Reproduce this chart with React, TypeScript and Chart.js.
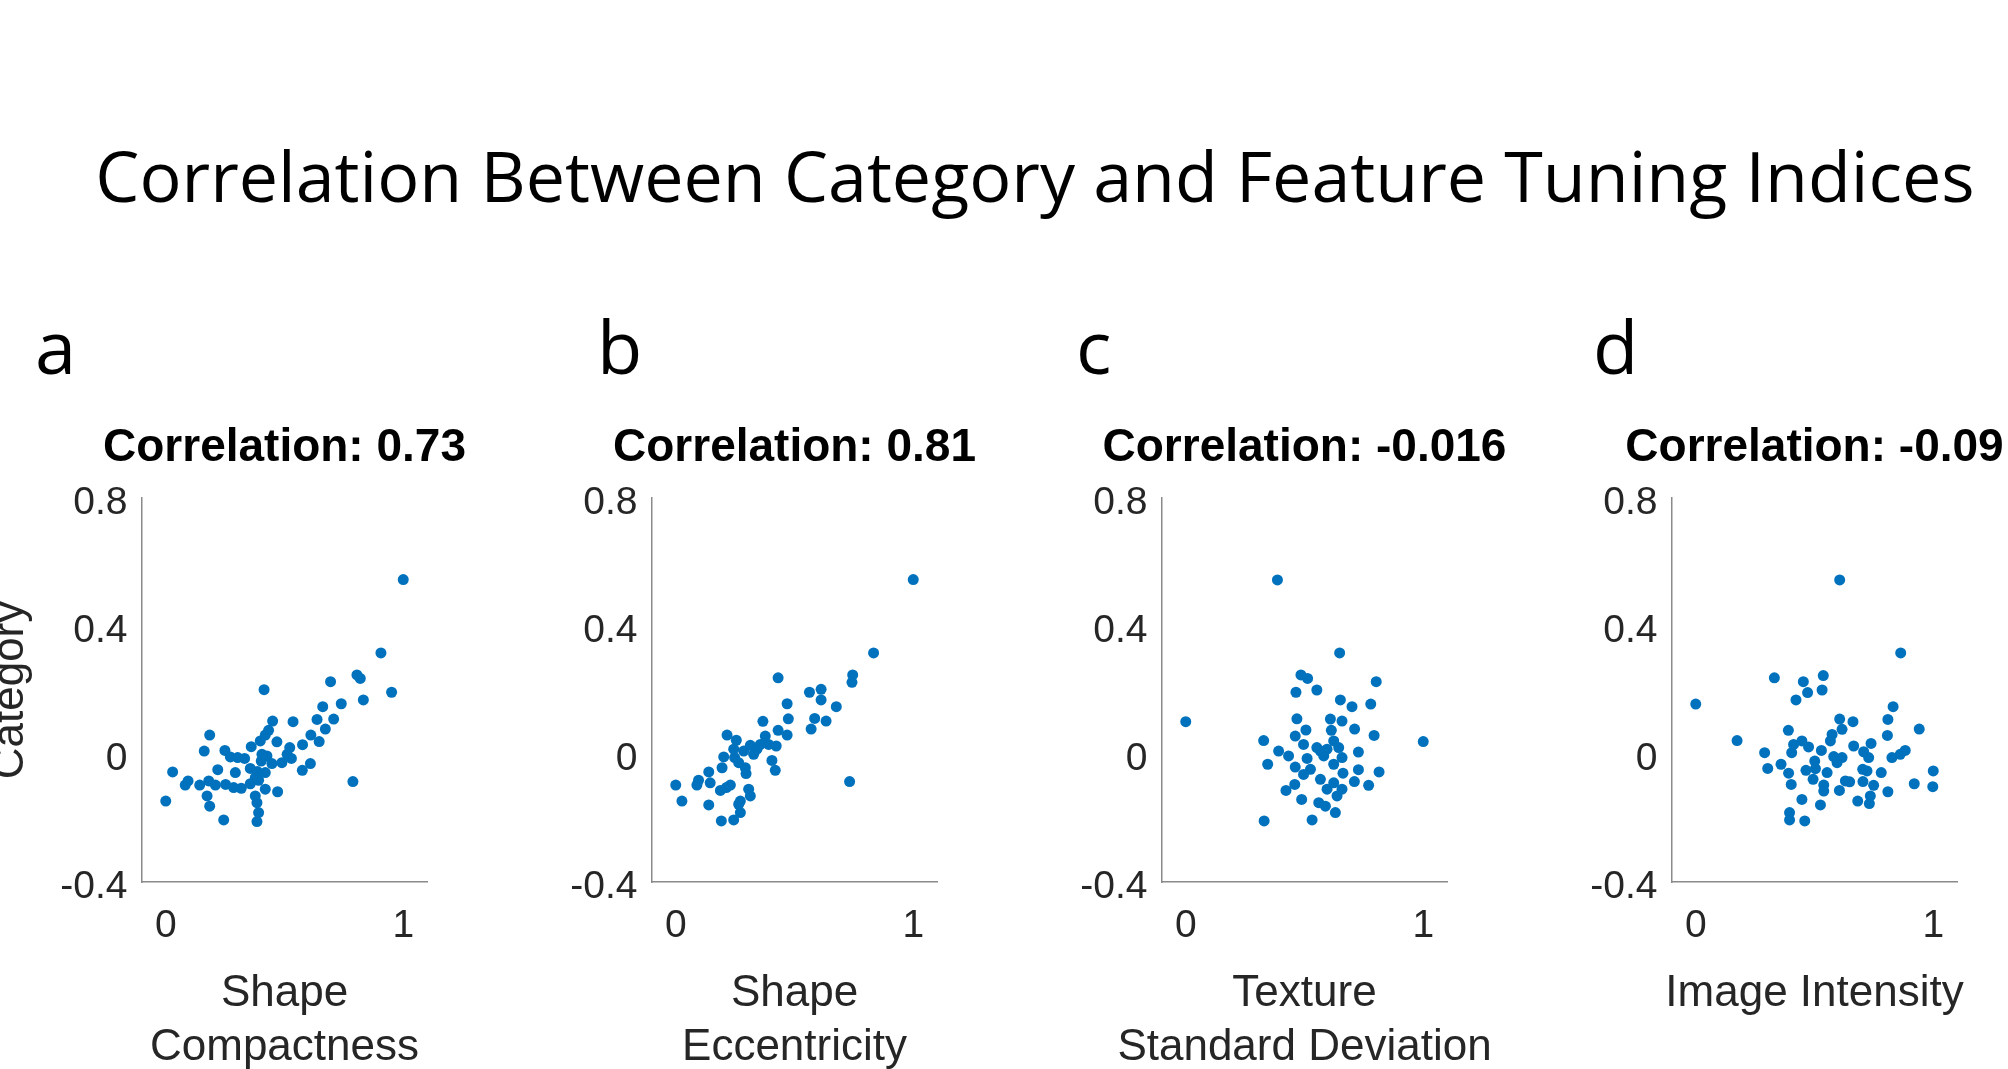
import React, { useEffect, useRef } from 'react';
import { Chart, registerables } from 'chart.js';

Chart.register(...registerables);

const figureTitle = 'Correlation Between Category and Feature Tuning Indices';
const panelLetters = ['a', 'b', 'c', 'd'];
const correlationTexts = ['Correlation: 0.73', 'Correlation: 0.81', 'Correlation: -0.016', 'Correlation: -0.09'];
const xAxisLabels = [['Shape', 'Compactness'], ['Shape', 'Eccentricity'], ['Texture', 'Standard Deviation'], ['Image Intensity']];
const yAxisLabel = 'Category';
const yTickValues = [-0.4, 0, 0.4, 0.8];
const xTickValues = [0, 1];

// [feature index, category index]
const compactnessPoints: [number, number][] = [
  [1.0, 0.545], [0.906, 0.316], [0.805, 0.247], [0.819, 0.236], [0.951, 0.193], [0.832, 0.169], [0.694, 0.226],
  [0.414, 0.201], [0.739, 0.157], [0.661, 0.148], [0.707, 0.109], [0.637, 0.108], [0.672, 0.078], [0.536, 0.101],
  [0.45, 0.103], [0.611, 0.059], [0.646, 0.039], [0.576, 0.029], [0.433, 0.074], [0.419, 0.059], [0.398, 0.041],
  [0.36, 0.023], [0.468, 0.038], [0.522, 0.02], [0.511, -0.001], [0.529, -0.014], [0.489, -0.027], [0.447, -0.03],
  [0.426, -0.006], [0.405, -0.001], [0.402, -0.022], [0.185, 0.059], [0.162, 0.009], [0.249, 0.011], [0.272, -0.009],
  [0.303, -0.011], [0.332, -0.014], [0.356, -0.045], [0.219, -0.049], [0.293, -0.058], [0.386, -0.055], [0.419, -0.058],
  [0.609, -0.03], [0.575, -0.051], [0.029, -0.056], [0.094, -0.084], [0.082, -0.097], [0.143, -0.097], [0.181, -0.084],
  [0.209, -0.097], [0.252, -0.095], [0.286, -0.105], [0.318, -0.107], [0.356, -0.093], [0.391, -0.082], [0.419, -0.11],
  [0.471, -0.118], [0.788, -0.086], [0.0, -0.147], [0.174, -0.131], [0.185, -0.163], [0.377, -0.131], [0.384, -0.152],
  [0.391, -0.183], [0.384, -0.211], [0.244, -0.206], [0.377, -0.074],
];

const eccentricityPoints: [number, number][] = [
  [1.0, 0.545], [0.833, 0.316], [0.745, 0.247], [0.742, 0.224], [0.431, 0.238], [0.563, 0.193], [0.612, 0.202],
  [0.612, 0.169], [0.676, 0.148], [0.469, 0.157], [0.585, 0.111], [0.633, 0.103], [0.57, 0.078], [0.474, 0.11],
  [0.367, 0.102], [0.431, 0.074], [0.469, 0.059], [0.377, 0.056], [0.423, 0.025], [0.391, 0.03], [0.342, 0.015],
  [0.314, 0.027], [0.405, -0.02], [0.419, -0.051], [0.216, 0.059], [0.255, 0.043], [0.286, 0.009], [0.202, -0.009],
  [0.248, -0.011], [0.265, -0.027], [0.293, -0.043], [0.195, -0.043], [0.296, -0.061], [0.139, -0.056], [0.096, -0.082],
  [0.089, -0.097], [0.145, -0.09], [0.0, -0.097], [0.188, -0.114], [0.23, -0.097], [0.213, -0.105], [0.307, -0.11],
  [0.314, -0.131], [0.272, -0.147], [0.265, -0.157], [0.272, -0.183], [0.244, -0.206], [0.192, -0.209], [0.026, -0.147],
  [0.139, -0.159], [0.732, -0.086], [0.356, 0.03], [0.328, -0.001], [0.244, 0.015],
];

const textureSdPoints: [number, number][] = [
  [0.386, 0.544], [0.648, 0.316], [0.485, 0.247], [0.513, 0.236], [0.802, 0.226], [0.464, 0.193], [0.552, 0.2],
  [0.651, 0.169], [0.7, 0.148], [0.779, 0.156], [0.0, 0.101], [0.468, 0.11], [0.609, 0.109], [0.658, 0.103],
  [0.711, 0.078], [0.506, 0.075], [0.613, 0.074], [0.793, 0.058], [1.0, 0.039], [0.328, 0.042], [0.461, 0.056],
  [0.496, 0.03], [0.391, 0.009], [0.433, -0.006], [0.552, 0.02], [0.595, 0.015], [0.644, 0.02], [0.623, 0.041],
  [0.658, -0.011], [0.727, 0.006], [0.511, -0.014], [0.581, -0.006], [0.345, -0.032], [0.461, -0.041], [0.525, -0.048],
  [0.662, -0.06], [0.727, -0.049], [0.814, -0.056], [0.496, -0.064], [0.567, -0.079], [0.623, -0.09], [0.71, -0.086],
  [0.77, -0.098], [0.459, -0.095], [0.422, -0.114], [0.595, -0.11], [0.658, -0.11], [0.488, -0.142], [0.56, -0.152],
  [0.588, -0.163], [0.637, -0.131], [0.63, -0.183], [0.532, -0.206], [0.33, -0.209], [0.567, 0.009], [0.623, -0.032],
];

const intensityPoints: [number, number][] = [
  [0.606, 0.544], [0.863, 0.316], [0.331, 0.238], [0.453, 0.226], [0.537, 0.245], [0.471, 0.192], [0.532, 0.2],
  [0.422, 0.169], [0.0, 0.156], [0.831, 0.148], [0.809, 0.108], [0.606, 0.109], [0.662, 0.101], [0.616, 0.077],
  [0.941, 0.078], [0.39, 0.074], [0.574, 0.061], [0.807, 0.058], [0.174, 0.042], [0.567, 0.041], [0.447, 0.041],
  [0.412, 0.03], [0.475, 0.022], [0.665, 0.025], [0.738, 0.033], [0.29, 0.004], [0.404, 0.004], [0.529, 0.011],
  [0.581, -0.008], [0.616, -0.011], [0.707, 0.007], [0.728, -0.011], [0.882, 0.011], [0.861, -0.001], [0.826, -0.011],
  [0.359, -0.032], [0.303, -0.045], [0.501, -0.022], [0.464, -0.051], [0.391, -0.06], [0.553, -0.058], [0.595, -0.027],
  [0.703, -0.048], [0.781, -0.058], [1.0, -0.053], [0.402, -0.095], [0.494, -0.079], [0.539, -0.097], [0.63, -0.084],
  [0.648, -0.087], [0.704, -0.086], [0.749, -0.098], [0.92, -0.093], [0.998, -0.102], [0.539, -0.116], [0.605, -0.114],
  [0.809, -0.118], [0.735, -0.131], [0.447, -0.142], [0.525, -0.159], [0.682, -0.147], [0.731, -0.155], [0.395, -0.183],
  [0.395, -0.206], [0.459, -0.209], [0.504, -0.046], [0.721, -0.053],
];

const panelPoints = [compactnessPoints, eccentricityPoints, textureSdPoints, intensityPoints];

// layout (pixels)
const PLOT_LEFTS = [141.7, 651.7, 1161.7, 1671.7];
const PLOT_TOP = 498;
const PLOT_BOTTOM = 882;
const PLOT_W = 285;
const Y_AXIS_W = 170;
const RIGHT_PAD = 60;
const CANVAS_TOP = 380;
const CANVAS_H = 1069 - CANVAS_TOP;
const CANVAS_W = Y_AXIS_W + PLOT_W + RIGHT_PAD;
const LETTER_LEFTS = [35, 597, 1076, 1593];

const SANS = '"Liberation Sans", Arial, Helvetica, sans-serif';
const AXIS_GRAY = '#262626';
const DOT_BLUE = '#0072BD';

function Panel({ index }: { index: number }) {
  const ref = useRef<HTMLCanvasElement | null>(null);
  useEffect(() => {
    if (!ref.current) return;
    const title = correlationTexts[index];
    const xLabel = xAxisLabels[index];
    const textPlugin = {
      id: 'panelText' + index,
      afterDraw(chart: any) {
        const { ctx, chartArea } = chart;
        const cx = (chartArea.left + chartArea.right) / 2;
        ctx.save();
        ctx.textAlign = 'center';
        ctx.textBaseline = 'alphabetic';
        ctx.fillStyle = '#000000';
        ctx.font = `bold 46px ${SANS}`;
        ctx.fillText(title, cx, chartArea.top - 37);
        ctx.fillStyle = AXIS_GRAY;
        ctx.font = `44px ${SANS}`;
        xLabel.forEach((line, i) => ctx.fillText(line, cx, chartArea.bottom + 124 + i * 54));
        ctx.restore();
      },
    };
    const chart = new Chart(ref.current, {
      type: 'scatter',
      data: {
        datasets: [
          {
            data: panelPoints[index].map(([x, y]) => ({ x, y })),
            backgroundColor: DOT_BLUE,
            borderWidth: 0,
            pointRadius: 5.5,
            pointHoverRadius: 5.5,
          },
        ],
      },
      options: {
        animation: false,
        responsive: false,
        events: [],
        layout: { padding: { top: PLOT_TOP - CANVAS_TOP, right: RIGHT_PAD, bottom: 0, left: 0 } },
        plugins: {
          legend: { display: false },
          tooltip: { enabled: false },
          title: { display: false },
        },
        scales: {
          x: {
            type: 'linear',
            min: -0.1,
            max: 1.1,
            afterBuildTicks: (s: any) => {
              s.ticks = xTickValues.map((v) => ({ value: v }));
            },
            afterFit: (s: any) => {
              s.height = CANVAS_TOP + CANVAS_H - PLOT_BOTTOM;
            },
            grid: { display: false, drawTicks: false },
            border: { display: true, color: '#8a8a8a', width: 1.5 },
            ticks: {
              font: { family: SANS, size: 39 },
              color: AXIS_GRAY,
              padding: 21,
              maxRotation: 0,
              autoSkip: false,
              callback: (v: any) => String(v),
            },
          },
          y: {
            type: 'linear',
            min: -0.4,
            max: 0.8,
            afterBuildTicks: (s: any) => {
              s.ticks = yTickValues.map((v) => ({ value: v }));
            },
            afterFit: (s: any) => {
              s.width = Y_AXIS_W;
            },
            grid: { display: false, drawTicks: false },
            border: { display: true, color: '#8a8a8a', width: 1.5 },
            ticks: {
              font: { family: SANS, size: 39 },
              color: AXIS_GRAY,
              padding: 14.5,
              labelOffset: 5,
              autoSkip: false,
              callback: (v: any) => String(v),
            },
            title: {
              display: index === 0,
              text: yAxisLabel,
              color: AXIS_GRAY,
              font: { family: SANS, size: 44 },
              padding: { top: 12, bottom: 0 },
            },
          },
        },
      },
      plugins: [textPlugin],
    });
    return () => chart.destroy();
  }, [index]);
  return (
    <canvas
      ref={ref}
      width={CANVAS_W}
      height={CANVAS_H}
      style={{
        position: 'absolute',
        left: PLOT_LEFTS[index] - Y_AXIS_W,
        top: CANVAS_TOP,
        width: CANVAS_W,
        height: CANVAS_H,
      }}
    />
  );
}

export default function App() {
  useEffect(() => {
    document.body.style.margin = '0';
  }, []);
  return (
    <div style={{ position: 'relative', width: 2008, height: 1069, overflow: 'hidden', background: '#ffffff' }}>
      <div
        style={{
          position: 'absolute',
          left: 0,
          top: 139.6,
          width: 2070,
          textAlign: 'center',
          fontFamily: '"Open Sans", sans-serif',
          fontSize: 70,
          lineHeight: '70px',
          color: '#000',
          whiteSpace: 'nowrap',
        }}
      >
        {figureTitle}
      </div>
      {panelLetters.map((l, i) => (
        <div
          key={l}
          style={{
            position: 'absolute',
            left: LETTER_LEFTS[i],
            top: 309.3,
            fontFamily: '"Open Sans", sans-serif',
            fontSize: 74,
            lineHeight: '74px',
            color: '#000',
          }}
        >
          {l}
        </div>
      ))}
      {panelLetters.map((l, i) => (
        <Panel key={'p' + l} index={i} />
      ))}
    </div>
  );
}
